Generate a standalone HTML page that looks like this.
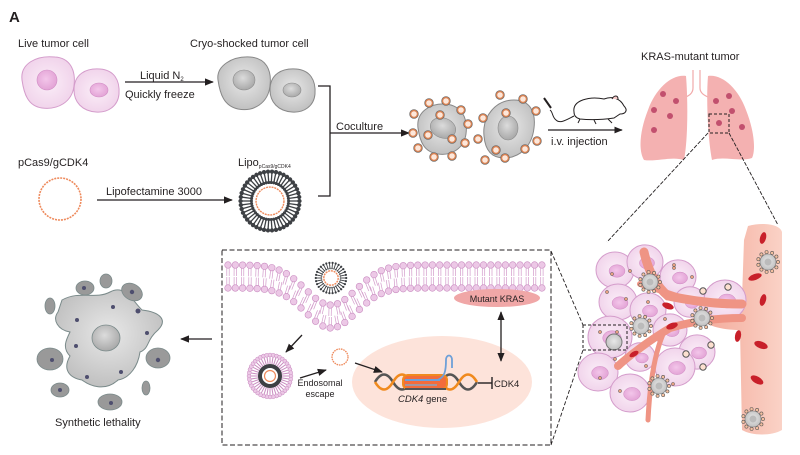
<!DOCTYPE html>
<html><head><meta charset="utf-8"><style>
html,body{margin:0;padding:0;background:#fff}
svg{display:block}
text{font-family:"Liberation Sans",Arial,sans-serif;fill:#231f20}
</style></head><body>
<svg id="s" width="800" height="455" viewBox="0 0 800 455" xmlns="http://www.w3.org/2000/svg">
<defs>
<radialGradient id="pk" cx="50%" cy="50%" r="55%"><stop offset="0" stop-color="#fbeef8"/><stop offset="1" stop-color="#f0d2ea"/></radialGradient>
<radialGradient id="pkn" cx="45%" cy="45%" r="55%"><stop offset="0" stop-color="#f3c6ea"/><stop offset="1" stop-color="#e3a4d6"/></radialGradient>
<radialGradient id="gr" cx="50%" cy="45%" r="60%"><stop offset="0" stop-color="#e8e8e8"/><stop offset="1" stop-color="#bdbdbd"/></radialGradient>
<radialGradient id="grn" cx="45%" cy="40%" r="60%"><stop offset="0" stop-color="#dcdcdc"/><stop offset="1" stop-color="#a9a9a9"/></radialGradient>
<linearGradient id="ves" x1="0" x2="1"><stop offset="0" stop-color="#f3a898"/><stop offset="1" stop-color="#fad2c6"/></linearGradient>
<marker id="ar" viewBox="0 0 10 10" refX="9" refY="5" markerWidth="7" markerHeight="7" orient="auto-start-reverse"><path d="M0,1 L10,5 L0,9 z" fill="#231f20"/></marker>
</defs>

<text x="9" y="22" font-size="15" font-weight="bold">A</text>

<text x="18" y="47" font-size="11">Live tumor cell</text>
<path d="M22,80 C20,64 36,55 55,57 C70,58 76,70 74,86 C72,102 58,110 42,108 C28,106 24,94 22,80 Z" fill="url(#pk)" stroke="#d49ccb" stroke-width="1"/>
<ellipse cx="47" cy="80" rx="10" ry="10" fill="url(#pkn)" stroke="#d08cc4" stroke-width=".6"/>
<path d="M74,90 C74,74 86,68 100,69 C114,70 120,80 119,94 C118,106 108,113 96,112 C82,111 74,102 74,90 Z" fill="url(#pk)" stroke="#d49ccb" stroke-width="1"/>
<ellipse cx="99" cy="90" rx="9" ry="7" fill="url(#pkn)" stroke="#d08cc4" stroke-width=".6"/>
<line x1="125" y1="82" x2="213" y2="82" stroke="#231f20" stroke-width="1.3" marker-end="url(#ar)"/>
<text x="140" y="79" font-size="11">Liquid  N<tspan font-size="6" dy="2">2</tspan></text>
<text x="125" y="98" font-size="11">Quickly freeze</text>

<text x="190" y="47" font-size="11">Cryo-shocked tumor cell</text>
<path d="M218,80 C216,66 232,56 250,57 C266,58 272,70 270,86 C268,103 254,112 238,109 C224,106 220,94 218,80 Z" fill="url(#gr)" stroke="#888" stroke-width="1"/>
<ellipse cx="244" cy="80" rx="11" ry="10" fill="url(#grn)" stroke="#8a8a8a" stroke-width=".6"/>
<path d="M270,90 C270,74 282,68 296,69 C310,70 316,80 315,94 C314,106 304,113 292,112 C278,111 270,102 270,90 Z" fill="url(#gr)" stroke="#888" stroke-width="1"/>
<ellipse cx="292" cy="90" rx="9" ry="7" fill="url(#grn)" stroke="#8a8a8a" stroke-width=".6"/>

<path d="M318,86 H330 V196 H318" fill="none" stroke="#231f20" stroke-width="1.3"/>
<line x1="330" y1="133" x2="409" y2="133" stroke="#231f20" stroke-width="1.3" marker-end="url(#ar)"/>
<text x="336" y="130" font-size="11">Coculture</text>

<text x="18" y="166" font-size="11">pCas9/gCDK4</text>
<circle cx="60" cy="199" r="21" fill="none" stroke="#ee8a5c" stroke-width="1.6" stroke-dasharray="2 1"/>
<line x1="97" y1="200" x2="232" y2="200" stroke="#231f20" stroke-width="1.3" marker-end="url(#ar)"/>
<text x="106" y="195" font-size="11">Lipofectamine  3000</text>
<text x="238" y="166" font-size="11">Lipo<tspan font-size="5" dy="2">pCas9/gCDK4</tspan></text>
<g id="lipo1"></g>

<path d="M418,128 C416,112 430,103 446,104 C462,106 468,118 466,134 C464,148 452,156 438,154 C424,152 420,142 418,128 Z" fill="url(#gr)" stroke="#888"/>
<ellipse cx="443" cy="128" rx="13" ry="10" transform="rotate(20 443 128)" fill="url(#grn)" stroke="#8a8a8a" stroke-width=".6"/>
<path d="M484,136 C482,116 496,100 514,100 C530,100 536,112 534,128 C532,146 520,158 504,158 C490,158 485,148 484,136 Z" fill="url(#gr)" stroke="#888"/>
<ellipse cx="508" cy="128" rx="10" ry="12" fill="url(#grn)" stroke="#8a8a8a" stroke-width=".6"/>
<g id="dots"></g>

<g fill="none" stroke="#231f20" stroke-width="1">
<path d="M574,112 C572,100 590,96 604,99 C612,96 620,98 624,106 C628,110 626,114 620,114 L614,118 C600,120 590,120 580,119 C576,118 574,116 574,112 Z" fill="#fff"/>
<path d="M612,99 C614,95 618,95 618,99" fill="#f4c8c8"/>
<path d="M574,116 C566,120 560,124 556,120 C552,117 553,112 550,110"/>
<line x1="551" y1="108" x2="544" y2="98" stroke-width="2"/>
<path d="M580,119 L578,123 M594,120 L596,124 M608,119 L612,123"/>
</g>
<line x1="548" y1="130" x2="622" y2="130" stroke="#231f20" stroke-width="1.2" marker-end="url(#ar)"/>
<text x="551" y="145" font-size="11">i.v. injection</text>

<text x="641" y="60" font-size="11">KRAS-mutant tumor</text>
<path d="M693,70 V88 C693,94 688,96 684,98 M700,70 V88 C700,94 706,96 710,98" fill="none" stroke="#f1a9a9" stroke-width="1.2"/>
<path d="M686,76 C672,74 656,88 648,110 C640,130 638,150 644,160 C656,162 672,156 684,160 C688,140 688,100 686,76 Z" fill="#f4b1b1"/>
<path d="M708,76 C722,74 738,88 746,110 C754,130 756,150 752,158 C740,162 724,156 712,160 C708,140 706,100 708,76 Z" fill="#f4b1b1"/>
<g fill="#c2506e"><circle cx="663" cy="94" r="3"/><circle cx="676" cy="101" r="3"/><circle cx="654" cy="110" r="3"/><circle cx="670" cy="116" r="3"/><circle cx="654" cy="130" r="3"/><circle cx="716" cy="101" r="3"/><circle cx="729" cy="96" r="3"/><circle cx="732" cy="111" r="3"/><circle cx="719" cy="123" r="3"/><circle cx="742" cy="127" r="3"/></g>
<rect x="709" y="114" width="20" height="19" fill="none" stroke="#231f20" stroke-dasharray="3 2" stroke-width="1"/>
<line x1="708" y1="133" x2="607" y2="242" stroke="#231f20" stroke-width=".9" stroke-dasharray="4 1.5"/>
<line x1="729" y1="133" x2="778" y2="225" stroke="#231f20" stroke-width=".9" stroke-dasharray="4 1.5"/>

<path d="M748,226 C762,222 780,224 782,232 L782,430 C772,436 752,436 742,430 L740,330 C720,330 705,325 700,318 L702,300 L742,298 L744,240 Z" fill="url(#ves)"/>
<g id="cells"></g>
<rect x="583" y="325" width="44" height="25" fill="none" stroke="#231f20" stroke-dasharray="3 2" stroke-width="1"/>
<line x1="551" y1="251" x2="583" y2="325" stroke="#231f20" stroke-width=".9" stroke-dasharray="4 2"/>
<line x1="551" y1="445" x2="583" y2="350" stroke="#231f20" stroke-width=".9" stroke-dasharray="4 2"/>

<rect x="222" y="250" width="329" height="195" fill="none" stroke="#231f20" stroke-width="1" stroke-dasharray="5 2.5"/>
<ellipse cx="442" cy="382" rx="90" ry="46" fill="#fde3da"/>
<g id="mem"></g>
<g id="lipo2"></g>
<ellipse cx="497" cy="298" rx="43" ry="9" fill="#f0a7a7"/>
<text x="497" y="302" font-size="9" text-anchor="middle">Mutant KRAS</text>
<line x1="501" y1="312" x2="501" y2="361" stroke="#231f20" stroke-width="1.3" marker-start="url(#ar)" marker-end="url(#ar)"/>
<line x1="302" y1="335" x2="286" y2="352" stroke="#231f20" stroke-width="1.3" marker-end="url(#ar)"/>
<g id="endo"></g>
<line x1="300" y1="378" x2="326" y2="370" stroke="#231f20" stroke-width="1.3" marker-end="url(#ar)"/>
<circle cx="340" cy="357" r="8" fill="none" stroke="#ee8a5c" stroke-width="1.3" stroke-dasharray="1.6 .8"/>
<text x="320" y="386" font-size="9" text-anchor="middle">Endosomal</text>
<text x="320" y="397" font-size="9" text-anchor="middle">escape</text>
<line x1="355" y1="363" x2="382" y2="372" stroke="#231f20" stroke-width="1.3" marker-end="url(#ar)"/>
<g fill="none" stroke-width="2.6">
<path d="M375,382 C381,372 387,372 393,382 C399,392 405,392 411,382" stroke="#555"/>
<path d="M375,382 C381,392 387,392 393,382 C399,372 405,372 411,382" stroke="#f08a1e"/>
<path d="M441,382 C447,372 453,372 459,382 C465,392 471,392 477,382" stroke="#555"/>
<path d="M441,382 C447,392 453,392 459,382 C465,372 471,372 477,382" stroke="#f08a1e"/>
<rect x="403" y="375" width="44" height="14" rx="5" stroke="#f08a1e" fill="#f26c3b" stroke-width="2"/>
<line x1="405" y1="380" x2="440" y2="380" stroke="#6ea0d8" stroke-width="2"/>
<line x1="405" y1="385" x2="437" y2="385" stroke="#8aa3c0" stroke-width="1.5"/>
<path d="M437,380 C445,378 446,370 446,360 C446,354 452,354 452,360 V368" stroke="#6ea0d8" stroke-width="1.8"/>
<path d="M405,389 H446" stroke="#555" stroke-width="2"/>
</g>
<line x1="478" y1="383" x2="492" y2="383" stroke="#231f20" stroke-width="1.4"/>
<line x1="492" y1="377" x2="492" y2="389" stroke="#231f20" stroke-width="1.4"/>
<text x="494" y="387" font-size="9.5">CDK4</text>
<text x="398" y="402" font-size="9.5"><tspan font-style="italic">CDK4</tspan> gene</text>

<path d="M62,300 C80,290 95,300 110,292 C125,284 132,300 142,310 C160,312 168,320 158,330 C146,340 150,348 140,352 C138,366 130,378 118,380 C105,392 90,386 82,380 C70,378 62,370 70,356 C62,348 66,340 70,332 C58,330 52,320 58,312 Z" fill="url(#gr)" stroke="#7a8a8a" stroke-width="1"/>
<ellipse cx="106" cy="338" rx="14" ry="13" fill="url(#grn)" stroke="#7a8a8a" stroke-width=".8"/>
<g fill="#999" stroke="#7a8a8a" stroke-width=".8">
<ellipse cx="85" cy="288" rx="9" ry="7"/><ellipse cx="106" cy="281" rx="6" ry="7"/><ellipse cx="132" cy="292" rx="11" ry="8" transform="rotate(30 132 292)"/>
<ellipse cx="50" cy="306" rx="5" ry="8"/><ellipse cx="50" cy="359" rx="13" ry="11"/><ellipse cx="158" cy="358" rx="12" ry="10" fill="#9a9a9a"/>
<ellipse cx="60" cy="390" rx="9" ry="7"/><ellipse cx="110" cy="402" rx="12" ry="8"/><ellipse cx="146" cy="388" rx="4" ry="7"/>
</g>
<g fill="#4e4e6e"><circle cx="84" cy="288" r="2"/><circle cx="132" cy="292" r="2.2"/><circle cx="77" cy="320" r="2"/><circle cx="113" cy="307" r="2"/><circle cx="138" cy="311" r="2.5"/><circle cx="147" cy="333" r="2"/><circle cx="76" cy="346" r="2"/><circle cx="52" cy="360" r="2"/><circle cx="158" cy="360" r="2.2"/><circle cx="121" cy="372" r="2"/><circle cx="87" cy="377" r="2"/><circle cx="60" cy="390" r="2"/><circle cx="111" cy="403" r="2"/></g>
<line x1="212" y1="339" x2="181" y2="339" stroke="#231f20" stroke-width="1.3" marker-end="url(#ar)"/>
<text x="55" y="426" font-size="11">Synthetic lethality</text>
</svg>
<script>
var NS="http://www.w3.org/2000/svg";
function el(p,t,a){var e=document.createElementNS(NS,t);for(var k in a)e.setAttribute(k,a[k]);document.getElementById(p).appendChild(e);return e;}
function liposome(g,cx,cy,R,n,col){
 for(var i=0;i<n;i++){var a=i/n*Math.PI*2,c=Math.cos(a),s=Math.sin(a);
  el(g,"line",{x1:cx+c*R*0.62,y1:cy+s*R*0.62,x2:cx+c*R*0.93,y2:cy+s*R*0.93,stroke:col,"stroke-width":R>20?1.3:0.9});
  el(g,"circle",{cx:cx+c*R*0.95,cy:cy+s*R*0.95,r:R*0.07,fill:col});
  el(g,"circle",{cx:cx+c*R*0.6,cy:cy+s*R*0.6,r:R*0.05,fill:col});}
 el(g,"circle",{cx:cx,cy:cy,r:R*0.45,fill:"none",stroke:"#ee8a5c","stroke-width":1.4,"stroke-dasharray":"2 .8"});
}
liposome("lipo1",270,201,31,46,"#3d4044");
liposome("lipo2",331,278,16,30,"#3d4044");
(function(){var cx=270,cy=376;
 for(var i=0;i<40;i++){var a=i/40*Math.PI*2;el("endo","line",{x1:cx+Math.cos(a)*12,y1:cy+Math.sin(a)*12,x2:cx+Math.cos(a)*20,y2:cy+Math.sin(a)*20,stroke:"#c98cc0","stroke-width":1});el("endo","circle",{cx:cx+Math.cos(a)*21,cy:cy+Math.sin(a)*21,r:2,fill:"#ecc8e6",stroke:"#c98cc0","stroke-width":.5});}
 el("endo","circle",{cx:cx,cy:cy,r:10,fill:"none",stroke:"#3d4044","stroke-width":4});
 el("endo","circle",{cx:cx,cy:cy,r:5.5,fill:"#fff",stroke:"#ee8a5c","stroke-width":1.2});
})();
function pd(x,y){el("dots","circle",{cx:x,cy:y,r:3.6,fill:"#fde7da",stroke:"#d98050","stroke-width":1.6});el("dots","circle",{cx:x,cy:y,r:4.4,fill:"none",stroke:"#6a6a6a","stroke-width":.6});}
[[429,103],[446,101],[414,114],[461,110],[468,124],[413,133],[428,135],[452,139],[465,143],[418,148],[434,157],[452,156],[440,115]].forEach(function(p){pd(p[0],p[1])});
[[500,95],[523,99],[483,118],[506,113],[536,111],[478,139],[537,141],[496,150],[525,149],[505,158],[485,160]].forEach(function(p){pd(p[0],p[1])});
function dip(x){return 40*Math.exp(-Math.pow((x-331)/36,2));}
for(var x=228;x<=546;x+=7.3){var d=dip(x),t=(dip(x+1)-dip(x-1))/2*0.5;
 var y1=265+d,y2=288+d;
 for(var k=-1;k<=1;k+=2){var ox=1.2*k;
  el("mem","path",{d:"M"+(x+ox)+","+(y1+3)+" l"+(-t*8)+",8 M"+(x+ox)+","+(y2-3)+" l"+(t*8)+",-8",stroke:"#d39ccb","stroke-width":.7,fill:"none"});}
 el("mem","circle",{cx:x,cy:y1,r:3.3,fill:"#ecc8e6",stroke:"#c98cc0","stroke-width":.6});
 el("mem","circle",{cx:x,cy:y2,r:3.3,fill:"#ecc8e6",stroke:"#c98cc0","stroke-width":.6});
}
var cells=[[615,270,19],[645,262,18],[678,277,18],[618,302,19],[648,310,18],[690,302,16],[610,337,22],[670,330,17],[640,357,15],[697,352,18],[675,367,20],[598,372,20],[630,393,20],[725,300,21]];
cells.forEach(function(c){el("cells","ellipse",{cx:c[0],cy:c[1],rx:c[2],ry:c[2]*0.95,fill:"url(#pk)",stroke:"#d49ccb","stroke-width":1});el("cells","ellipse",{cx:c[0]+2,cy:c[1]+1,rx:c[2]*0.42,ry:c[2]*0.33,fill:"url(#pkn)",stroke:"#d08cc4","stroke-width":.5});});
[["M742,304 C710,304 690,300 668,296 C655,285 648,270 644,252",9],["M742,318 C715,318 690,322 670,328 C650,340 630,355 618,366",8],["M690,300 C675,296 660,290 640,284",6],["M665,330 C655,350 650,380 648,420",5]].forEach(function(p){el("cells","path",{d:p[0],fill:"none",stroke:"#ef9484","stroke-width":p[1],"stroke-linecap":"round"});});
[[668,306,6,3,20],[672,326,6,3,-20],[634,354,5,2.5,-30],[763,238,3,6,15],[755,277,7,3,-20],[763,300,3,6,15],[738,336,3,6,10],[761,345,7,3.5,20],[757,380,7,3.5,30]].forEach(function(r){el("cells","ellipse",{cx:r[0],cy:r[1],rx:r[2],ry:r[3],transform:"rotate("+r[4]+" "+r[0]+" "+r[1]+")",fill:"#c8202a"});});
function cc(x,y){el("cells","circle",{cx:x,cy:y,r:8,fill:"url(#gr)",stroke:"#777","stroke-width":.6});el("cells","circle",{cx:x,cy:y,r:3.5,fill:"#bbb"});for(var i=0;i<11;i++){var a=i/11*6.28;el("cells","circle",{cx:x+Math.cos(a)*10,cy:y+Math.sin(a)*10,r:1.6,fill:"#f5c0a0",stroke:"#555","stroke-width":.6});}}
[[650,282],[641,326],[702,318],[659,386],[768,262],[753,419]].forEach(function(p){cc(p[0],p[1])});
el("cells","circle",{cx:614,cy:342,r:8,fill:"url(#gr)",stroke:"#777"});
[[703,291],[728,287],[711,345],[703,367],[686,354]].forEach(function(p){el("cells","circle",{cx:p[0],cy:p[1],r:3.2,fill:"#fde0d0",stroke:"#555","stroke-width":1});});
[[612,274],[630,271],[674,268],[692,277],[607,292],[626,299],[648,302],[665,319],[600,332],[617,332],[615,359],[646,366],[600,378],[620,391],[673,384],[674,265]].forEach(function(p){el("cells","circle",{cx:p[0],cy:p[1],r:1.6,fill:"#e8a080",stroke:"#555","stroke-width":.5});});
</script>
</body></html>
